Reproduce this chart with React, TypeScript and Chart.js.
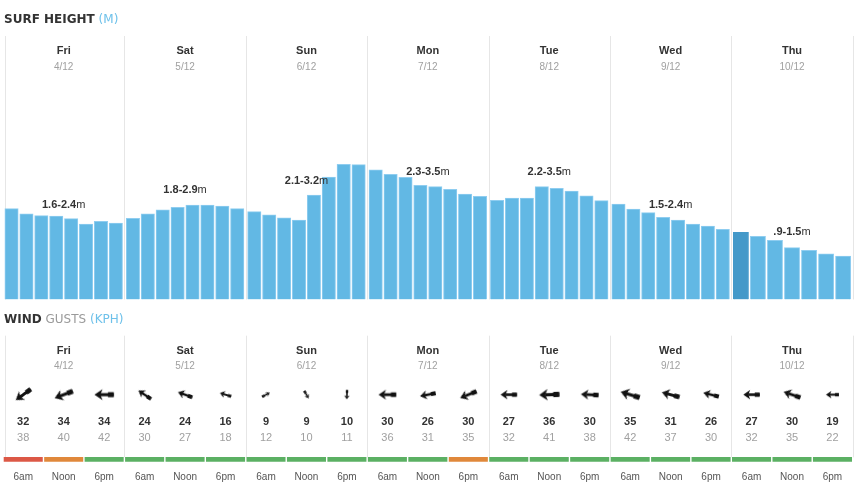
import React, { useEffect, useRef } from 'react';
import { Chart, registerables } from 'chart.js';

Chart.register(...registerables);

// ---------- data ----------
const days = ['Fri', 'Sat', 'Sun', 'Mon', 'Tue', 'Wed', 'Thu'];
const dates = ['4/12', '5/12', '6/12', '7/12', '8/12', '9/12', '10/12'];
const surfRanges = ['1.6-2.4', '1.8-2.9', '2.1-3.2', '2.3-3.5', '2.2-3.5', '1.5-2.4', '.9-1.5'];

const friSurf = [2.07, 1.95, 1.91, 1.9, 1.84, 1.72, 1.78, 1.74];
const satSurf = [1.85, 1.95, 2.04, 2.1, 2.15, 2.15, 2.13, 2.07];
const sunSurf = [2.0, 1.93, 1.86, 1.81, 2.38, 2.79, 3.08, 3.07];
const monSurf = [2.95, 2.85, 2.78, 2.6, 2.57, 2.51, 2.4, 2.35];
const tueSurf = [2.26, 2.31, 2.31, 2.57, 2.53, 2.47, 2.36, 2.25];
const wedSurf = [2.17, 2.06, 1.98, 1.87, 1.81, 1.72, 1.67, 1.6];
const thuSurf = [1.53, 1.44, 1.35, 1.18, 1.12, 1.04, 0.99];
const surfByDay = [friSurf, satSurf, sunSurf, monSurf, tueSurf, wedSurf, thuSurf];
const currentBar = { day: 6, index: 0 };

const timeLabels = ['6am', 'Noon', '6pm'];
const windSpeed = [32, 34, 34, 24, 24, 16, 9, 9, 10, 30, 26, 30, 27, 36, 30, 35, 31, 26, 27, 30, 19];
const windGust = [38, 40, 42, 30, 27, 18, 12, 10, 11, 36, 31, 35, 32, 41, 38, 42, 37, 30, 32, 35, 22];
const windFrom = [54, 69, 90, 124, 110, 107, 241, 330, 2, 90, 79, 68, 90, 88, 93, 107, 105, 104, 90, 109, 90];
const windRating = [
  'poor', 'fair', 'good', 'good', 'good', 'good', 'good', 'good', 'good', 'good', 'good',
  'fair', 'good', 'good', 'good', 'good', 'good', 'good', 'good', 'good', 'good',
];

// ---------- styles ----------
const BLUE = '#62b8e4';
const BLUE_DARK = '#4499c9';
const BLUE_EDGE = '#8fcdf0';
const GRID = '#e6e6e6';
const RATING_COLORS: Record<string, string> = { poor: '#dc5846', fair: '#e0883b', good: '#5bb063' };
const SANS = '"Liberation Sans", Arial, Helvetica, sans-serif';
const BOLD11 = `bold 11px ${SANS}`;
const REG11 = `11px ${SANS}`;
const REG10 = `10px ${SANS}`;
const DAY_PAD = 0.009; // inner padding of each day column (fraction of a day)

// wind panel rows (value units on the wind y-scale, measured up from the strip bottom)
const WIND_TOP = 126;
const ROW_DAY = 111.2;
const ROW_DATE = 95;
const ROW_ARROW = 67;
const ROW_SPEED = 39.4;
const ROW_GUST = 23.4;
const STRIP_H = 4.4;
const ROW_TIME = -15.6;

function arrowLength(speed: number) {
  return 5 + 0.42 * speed;
}

function makeArrow(len: number): HTMLCanvasElement {
  const size = Math.ceil(len) + 10;
  const c = document.createElement('canvas');
  c.width = size;
  c.height = size;
  const g = c.getContext('2d')!;
  g.translate(size / 2, size / 2);
  g.fillStyle = '#111';
  const half = len / 2;
  const hl = 0.42 * len;
  const hw = 0.29 * len;
  g.beginPath();
  g.moveTo(half, 0);
  g.lineTo(half - hl, -hw);
  g.lineTo(half - hl * 0.72, 0);
  g.lineTo(half - hl, hw);
  g.closePath();
  g.fill();
  const st = Math.max(1.6, 0.16 * len);
  g.fillRect(-half, -st / 2, len - hl * 0.7, st);
  const tt = Math.max(2.4, 0.26 * len);
  g.fillRect(-half, -tt / 2, 0.3 * len, tt);
  return c;
}

const surfDecor = {
  id: 'surfDecor',
  beforeDatasetsDraw(chart: any) {
    const { ctx, chartArea, scales } = chart;
    ctx.save();
    ctx.strokeStyle = GRID;
    ctx.lineWidth = 1;
    for (let d = 0; d <= days.length; d++) {
      let x = scales.x.getPixelForValue(d);
      if (d === 0) x += 1.7;
      x = Math.round(x) + 0.5;
      ctx.beginPath();
      ctx.moveTo(x, chartArea.top);
      ctx.lineTo(x, chartArea.bottom);
      ctx.stroke();
    }
    ctx.restore();
  },
  afterDatasetsDraw(chart: any) {
    const { ctx, chartArea, scales } = chart;
    ctx.save();
    ctx.textBaseline = 'middle';
    days.forEach((day, d) => {
      const cx = scales.x.getPixelForValue(d + 0.5);
      ctx.textAlign = 'center';
      ctx.font = BOLD11;
      ctx.fillStyle = '#333';
      ctx.fillText(day, cx, chartArea.top + 15.3);
      ctx.font = REG10;
      ctx.fillStyle = '#a0a0a0';
      ctx.fillText(dates[d], cx, chartArea.top + 31.2);

      const range = surfRanges[d];
      const max = parseFloat(range.split('-')[1]);
      const y = scales.yRange.getPixelForValue(max);
      ctx.font = BOLD11;
      const w1 = ctx.measureText(range).width;
      ctx.font = REG11;
      const w2 = ctx.measureText('m').width;
      const sx = cx - (w1 + w2) / 2;
      ctx.textAlign = 'left';
      ctx.fillStyle = '#333';
      ctx.font = BOLD11;
      ctx.fillText(range, sx, y);
      ctx.font = REG11;
      ctx.fillText('m', sx + w1, y);
    });
    ctx.restore();
  },
};

const windDecor = {
  id: 'windDecor',
  beforeDatasetsDraw(chart: any) {
    const { ctx, scales } = chart;
    const top = scales.y.getPixelForValue(WIND_TOP);
    const bottom = scales.y.getPixelForValue(STRIP_H);
    ctx.save();
    ctx.strokeStyle = GRID;
    ctx.lineWidth = 1;
    for (let d = 0; d <= days.length; d++) {
      let x = scales.x.getPixelForValue(d * 3);
      if (d === 0) x += 1.7;
      x = Math.round(x) + 0.5;
      ctx.beginPath();
      ctx.moveTo(x, top);
      ctx.lineTo(x, bottom);
      ctx.stroke();
    }
    ctx.restore();
  },
  afterDatasetsDraw(chart: any) {
    const { ctx, scales } = chart;
    const X = scales.x;
    const Y = scales.y;
    ctx.save();
    ctx.textBaseline = 'middle';
    ctx.textAlign = 'center';
    days.forEach((day, d) => {
      const cx = X.getPixelForValue(d * 3 + 1.5);
      ctx.font = BOLD11;
      ctx.fillStyle = '#333';
      ctx.fillText(day, cx, Y.getPixelForValue(ROW_DAY));
      ctx.font = REG10;
      ctx.fillStyle = '#a0a0a0';
      ctx.fillText(dates[d], cx, Y.getPixelForValue(ROW_DATE));
    });
    windSpeed.forEach((s, i) => {
      const cx = X.getPixelForValue(i + 0.5);
      ctx.font = BOLD11;
      ctx.fillStyle = '#333';
      ctx.fillText(String(s), cx, Y.getPixelForValue(ROW_SPEED));
      ctx.font = REG11;
      ctx.fillStyle = '#a0a0a0';
      ctx.fillText(String(windGust[i]), cx, Y.getPixelForValue(ROW_GUST));
      ctx.font = REG10;
      ctx.fillStyle = '#555';
      ctx.fillText(timeLabels[i % 3], cx, Y.getPixelForValue(ROW_TIME));
    });
    ctx.restore();
  },
};

export default function App() {
  const surfRef = useRef<HTMLCanvasElement>(null);
  const windRef = useRef<HTMLCanvasElement>(null);

  useEffect(() => {
    const surfDatasets = surfByDay.map((vals, d) => ({
      type: 'bar' as const,
      label: days[d],
      data: vals.map((v, i) => ({
        x: d + DAY_PAD + ((i + 0.5) * (1 - 2 * DAY_PAD)) / vals.length,
        y: v,
      })),
      backgroundColor: vals.map((_, i) =>
        d === currentBar.day && i === currentBar.index ? BLUE_DARK : BLUE
      ),
      borderColor: vals.map((_, i) =>
        d === currentBar.day && i === currentBar.index ? BLUE_DARK : BLUE_EDGE
      ),
      borderWidth: { top: 1, left: 1, right: 1, bottom: 0 },
      barThickness: vals.length === 8 ? 13.4 : 15.2,
      grouped: false,
    }));

    const surf = new Chart(surfRef.current!, {
      type: 'bar',
      data: { datasets: surfDatasets as any },
      options: {
        animation: false,
        responsive: false,
        events: [],
        layout: { autoPadding: false, padding: { left: 3, right: 3.3, top: 36, bottom: 5.5 } },
        plugins: { legend: { display: false }, tooltip: { enabled: false } },
        scales: {
          x: { type: 'linear', min: 0, max: days.length, offset: false, display: false },
          y: { type: 'linear', min: 0, max: 6, display: false },
          yRange: { type: 'linear', min: -0.75, max: 8.033, display: false },
        },
      },
      plugins: [surfDecor],
    });

    const arrows = windSpeed.map((s) => makeArrow(arrowLength(s)));

    const wind = new Chart(windRef.current!, {
      type: 'bar',
      data: {
        datasets: [
          {
            type: 'bar',
            label: 'rating',
            data: windRating.map((_, i) => ({ x: i + 0.5, y: [0, STRIP_H] })) as any,
            backgroundColor: windRating.map((r) => RATING_COLORS[r]),
            borderWidth: 0,
            barThickness: 38.4,
            grouped: false,
          },
          {
            type: 'scatter',
            label: 'direction',
            data: windSpeed.map((_, i) => ({ x: i + 0.5, y: ROW_ARROW })),
            pointStyle: (c: any) => arrows[c.dataIndex],
            rotation: (c: any) => (windFrom[c.dataIndex] + 90) % 360,
            pointRadius: 4,
          } as any,
        ],
      },
      options: {
        animation: false,
        responsive: false,
        events: [],
        layout: { autoPadding: false, padding: { left: 3, right: 3.3, top: 30.7, bottom: 29.3 } },
        plugins: { legend: { display: false }, tooltip: { enabled: false } },
        scales: {
          x: { type: 'linear', min: 0, max: windSpeed.length, offset: false, display: false },
          y: { type: 'linear', min: 0, max: WIND_TOP, display: false },
        },
      },
      plugins: [windDecor],
    });

    return () => {
      surf.destroy();
      wind.destroy();
    };
  }, []);

  const header: React.CSSProperties = {
    position: 'absolute',
    left: 4,
    font: 'bold 12px "DejaVu Sans", sans-serif',
    lineHeight: '14px',
    color: '#333',
    whiteSpace: 'nowrap',
  };

  return (
    <div style={{ position: 'absolute', left: 0, top: 0, width: 856, height: 491, background: '#fff' }}>
      <canvas ref={surfRef} width={856} height={305} style={{ position: 'absolute', left: 0, top: 0 }} />
      <canvas ref={windRef} width={856} height={186} style={{ position: 'absolute', left: 0, top: 305 }} />
      <div style={{ ...header, top: 12 }}>
        SURF HEIGHT<span style={{ fontWeight: 400, color: '#6ec1ea' }}> (M)</span>
      </div>
      <div style={{ ...header, top: 312 }}>
        WIND<span style={{ fontWeight: 400, color: '#9a9a9a' }}> GUSTS</span>
        <span style={{ fontWeight: 400, color: '#6ec1ea' }}> (KPH)</span>
      </div>
    </div>
  );
}
